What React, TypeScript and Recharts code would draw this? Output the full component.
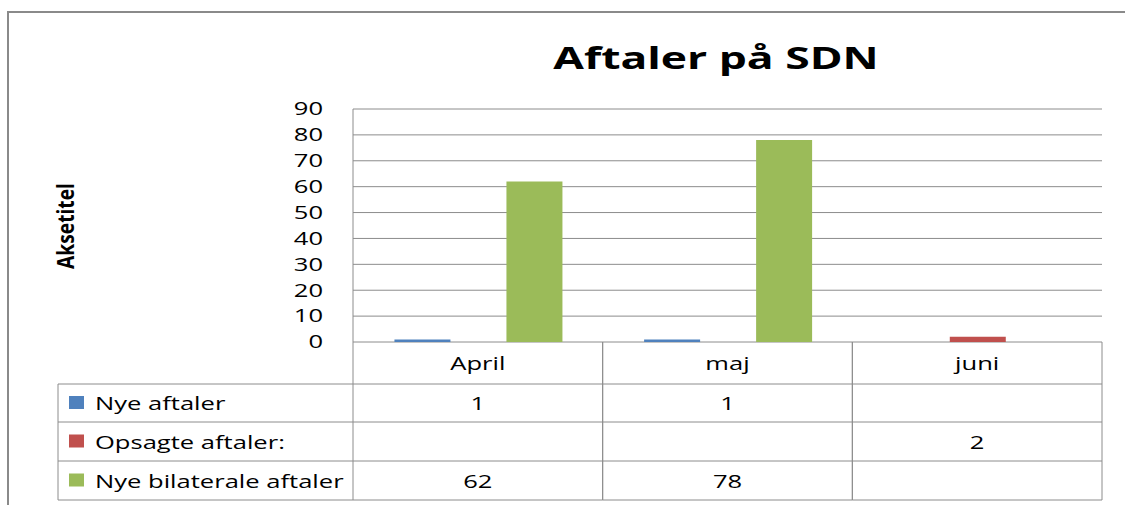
import React from 'react';
import { BarChart, Bar, XAxis, YAxis, CartesianGrid } from 'recharts';

const categories = ['April', 'maj', 'juni'];
const nyeAftaler: (number | null)[] = [1, 1, null];
const opsagteAftaler: (number | null)[] = [null, null, 2];
const nyeBilaterale: (number | null)[] = [62, 78, null];
const seriesNames = ['Nye aftaler', 'Opsagte aftaler:', 'Nye bilaterale aftaler'];
const seriesColors = ['#4F81BD', '#C0504D', '#9BBB59'];
const yTicks = [0, 10, 20, 30, 40, 50, 60, 70, 80, 90];
const title = 'Aftaler på SDN';
const yAxisTitle = 'Aksetitel';

const seriesValues = [nyeAftaler, opsagteAftaler, nyeBilaterale];
const data = categories.map((c, i) => ({
  name: c,
  s0: nyeAftaler[i],
  s1: opsagteAftaler[i],
  s2: nyeBilaterale[i],
}));

const W = 1125;
const H = 505;
const PLOT_LEFT = 353;
const PLOT_RIGHT = 1102;
const PLOT_TOP = 109;
const PLOT_BOTTOM = 342;
const Y_AXIS_W = 60;
const X_AXIS_H = 158;
const ROWS = [342, 384, 422, 461, 500];
const LEGEND_LEFT = 58;
const LINE = '#8C8C8C';
const FONT = '"Open Sans", "DejaVu Sans", sans-serif';
const FS = 18;
const SX = 1.42;

const bandW = (PLOT_RIGHT - PLOT_LEFT) / categories.length;

const SText = ({ x, y, anchor, children }: any) => (
  <text
    transform={`translate(${x},${y}) scale(${SX},1)`}
    x={0}
    y={0}
    textAnchor={anchor || 'middle'}
    dominantBaseline="central"
    fontFamily={FONT}
    fontSize={FS}
    fill="#000"
  >
    {children}
  </text>
);

const YTick = (props: any) => {
  const { x, y, payload } = props;
  return <SText x={x} y={y - 1} anchor="end">{payload.value}</SText>;
};

const TableTick = (props: any) => {
  const { x, index, payload } = props;
  const left = x - bandW / 2;
  const right = x + bandW / 2;
  const els: React.ReactNode[] = [];
  els.push(<line key="vl" x1={left} x2={left} y1={ROWS[0]} y2={ROWS[4]} stroke={LINE} strokeWidth={1} />);
  els.push(<line key="vr" x1={right} x2={right} y1={ROWS[0]} y2={ROWS[4]} stroke={LINE} strokeWidth={1} />);
  for (let r = 1; r < ROWS.length; r++) {
    els.push(<line key={'h' + r} x1={left} x2={right} y1={ROWS[r]} y2={ROWS[r]} stroke={LINE} strokeWidth={1} />);
  }
  els.push(<SText key="cat" x={x} y={(ROWS[0] + ROWS[1]) / 2}>{payload.value}</SText>);
  seriesValues.forEach((vals, s) => {
    const v = vals[index];
    if (v !== null && v !== undefined) {
      els.push(<SText key={'v' + s} x={x} y={(ROWS[s + 1] + ROWS[s + 2]) / 2}>{v}</SText>);
    }
  });
  if (index === 0) {
    els.push(<line key="ll" x1={LEGEND_LEFT} x2={LEGEND_LEFT} y1={ROWS[1]} y2={ROWS[4]} stroke={LINE} strokeWidth={1} />);
    for (let r = 1; r < ROWS.length; r++) {
      els.push(<line key={'lh' + r} x1={LEGEND_LEFT} x2={left} y1={ROWS[r]} y2={ROWS[r]} stroke={LINE} strokeWidth={1} />);
    }
    seriesNames.forEach((n, s) => {
      const cy = (ROWS[s + 1] + ROWS[s + 2]) / 2;
      els.push(<rect key={'sq' + s} x={69} y={cy - 7} width={15} height={13} fill={seriesColors[s]} />);
      els.push(<SText key={'ln' + s} x={95} y={cy} anchor="start">{n}</SText>);
    });
  }
  return <g>{els}</g>;
};

export default function App() {
  return (
    <div style={{ position: 'absolute', left: 0, top: 0, width: W, height: H, background: '#fff', overflow: 'hidden' }}>
      <style>{'html,body{overflow:hidden;}'}</style>
      <div style={{ position: 'absolute', left: 7, top: 11, width: W - 7, height: 2, background: '#8A8A8A' }} />
      <div style={{ position: 'absolute', left: 7, top: 11, width: 2, height: H - 11, background: '#8A8A8A' }} />
      <div style={{ position: 'absolute', left: 0, top: 0 }}>
        <BarChart
          width={W}
          height={H}
          data={data}
          margin={{ top: PLOT_TOP, right: W - PLOT_RIGHT, bottom: H - PLOT_BOTTOM - X_AXIS_H, left: PLOT_LEFT - Y_AXIS_W }}
          barCategoryGap="16.6%"
          barGap={0}
        >
          <CartesianGrid vertical={false} stroke={LINE} strokeWidth={1} />
          <XAxis dataKey="name" height={X_AXIS_H} axisLine={false} tickLine={false} tick={<TableTick />} interval={0} />
          <YAxis
            width={Y_AXIS_W}
            domain={[0, 90]}
            ticks={yTicks}
            interval={0}
            axisLine={{ stroke: LINE }}
            tickLine={false}
            tickMargin={24}
            tick={<YTick />}
          />
          <Bar dataKey="s0" name={seriesNames[0]} fill={seriesColors[0]} isAnimationActive={false} />
          <Bar dataKey="s1" name={seriesNames[1]} fill={seriesColors[1]} isAnimationActive={false} />
          <Bar dataKey="s2" name={seriesNames[2]} fill={seriesColors[2]} isAnimationActive={false} />
        </BarChart>
      </div>
      <div style={{ position: 'absolute', left: 716, top: 58, transform: 'translate(-50%, -50%) scale(1.48, 1)', fontFamily: FONT, fontWeight: 700, fontSize: 30, color: '#000', lineHeight: '40px', whiteSpace: 'nowrap' }}>
        {title}
      </div>
      <div style={{ position: 'absolute', left: 65, top: 226, transform: 'translate(-50%, -50%) rotate(-90deg) scale(1.2, 1.5)', fontFamily: FONT, fontWeight: 700, fontSize: 16, color: '#000', whiteSpace: 'nowrap', lineHeight: '20px' }}>
        {yAxisTitle}
      </div>
    </div>
  );
}
